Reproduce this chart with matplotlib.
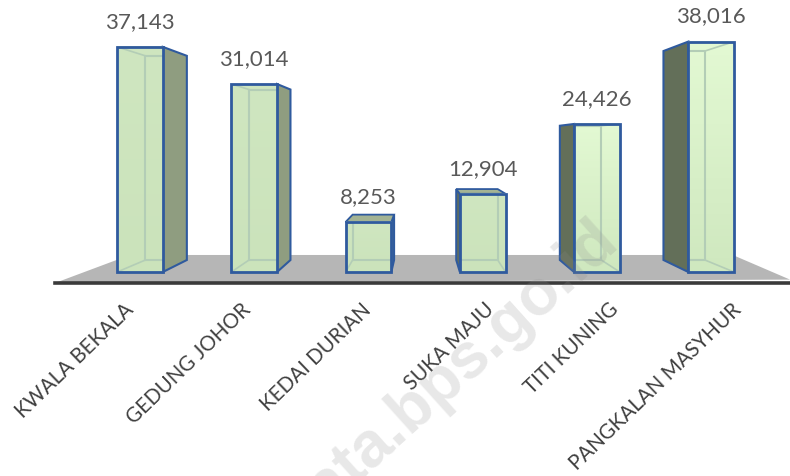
import numpy as np
import matplotlib
matplotlib.use("Agg")
import matplotlib.pyplot as plt
from matplotlib.patches import Polygon
from matplotlib.colors import LinearSegmentedColormap
from matplotlib.transforms import ScaledTranslation

categories = ["KWALA BEKALA", "GEDUNG JOHOR", "KEDAI DURIAN", "SUKA MAJU", "TITI KUNING", "PANGKALAN MASYHUR"]
values = [37143, 31014, 8253, 12904, 24426, 38016]

# shifts of the slanted labels, px
label_shift = [-9, -7, 0, 8, 18, 27]

plt.rcParams["font.family"] = ["Lato", "DejaVu Sans"]

EDGE = "#2f5a9e"
INNER = "#b3cdb6"
half = 0.2       # half a bar, in category units
depth = 0.907    # back face scale
vx, vy = 2.46, 21285   # vanishing point of the 3d bars

fig = plt.figure(figsize=(7.9, 4.76), dpi=100)
ax = fig.add_axes([55 / 790, (476 - 283) / 476, 735 / 790, 283 / 476])
ax.set_xlim(-0.744, 5.69)
ax.set_ylim(-1815, 44880)

for s in ["top", "left", "right"]:
    ax.spines[s].set_visible(False)
ax.spines["bottom"].set_linewidth(2.6)
ax.spines["bottom"].set_color("#3a3a3a")
ax.set_yticks([])

# floor
ax.add_patch(Polygon([(0, 0), (0.102, 0.099), (0.922, 0.099), (1, 0.012)], closed=True,
                     transform=ax.transAxes, fc="#b6b6b6", ec="none", zorder=1))


def back(x, y):
    return vx + (x - vx) * depth, vy + (y - vy) * depth


for i, v in enumerate(values):
    x0, x1 = i - half, i + half
    bx0, by0 = back(x0, 0)
    bx1, by1 = back(x1, v)
    z = 2 + i * 0.1

    # side and top faces
    if bx1 > x1:
        side = [(x1, 0), (x1, v), (bx1, by1), (bx1, by0)]
        side_col = "#8f9d80"
    else:
        side = [(x0, 0), (x0, v), (bx0, by1), (bx0, by0)]
        side_col = "#636f59"
    ax.add_patch(Polygon(side, closed=True, fc=side_col, ec=EDGE, lw=1.5, zorder=z))
    if by1 > v:
        ax.add_patch(Polygon([(x0, v), (x1, v), (bx1, by1), (bx0, by1)], closed=True,
                             fc="#a3b394", ec=EDGE, lw=1.3, zorder=z))

    # front face with a soft gradient, lighter for the bars on the right
    if i >= 4:
        cols = ["#cfe8bf", "#e3f9d3"]
    else:
        cols = ["#cbe3bb", "#cfe6c0"]
    cm = LinearSegmentedColormap.from_list("front", cols)
    ax.imshow(np.linspace(0, 1, 64)[:, None], origin="lower", cmap=cm, aspect="auto",
              extent=(x0, x1, 0, v), zorder=z + 0.01)

    front = Polygon([(x0, 0), (x0, v), (x1, v), (x1, 0)], closed=True, fc="none",
                    ec=EDGE, lw=2.0, zorder=z + 0.03)
    ax.add_patch(front)

    # back box seen through the front face, kept inside it
    inner = ax.plot([bx0, bx0, bx1, bx1, bx0], [by0, by1, by1, by0, by0], color=INNER, lw=1.5,
                    zorder=z + 0.02)
    for fx, fy, bx, by in [(x0, 0, bx0, by0), (x1, 0, bx1, by0), (x0, v, bx0, by1), (x1, v, bx1, by1)]:
        inner += ax.plot([fx, bx], [fy, by], color=INNER, lw=1.2, zorder=z + 0.02)
    for ln in inner:
        ln.set_clip_path(front)

    ax.text(i, v + 2500, f"{v:,}", ha="center", va="bottom", fontsize=16,
            color="#595959", zorder=6, clip_on=False)

ax.set_xlim(-0.744, 5.69)
ax.set_ylim(-1815, 44880)

ax.set_xticks(range(len(categories)))
ax.set_xticklabels(categories, rotation=44, ha="right", va="center", rotation_mode="anchor",
                   fontsize=14.8, color="#404040")
ax.tick_params(axis="x", length=0, pad=17)
for lab, dx in zip(ax.get_xticklabels(), label_shift):
    lab.set_transform(lab.get_transform() + ScaledTranslation(dx / 100, 0, fig.dpi_scale_trans))

# faint site watermark
fig.text(620 / 790, 1 - 245 / 476, "data.bps.go.id", ha="right", va="baseline", rotation=42,
         rotation_mode="anchor", fontsize=46, fontweight="bold", family="Liberation Sans",
         color="#8c8c8c", alpha=0.2, zorder=10)

fig.savefig("out.png", dpi=100)
